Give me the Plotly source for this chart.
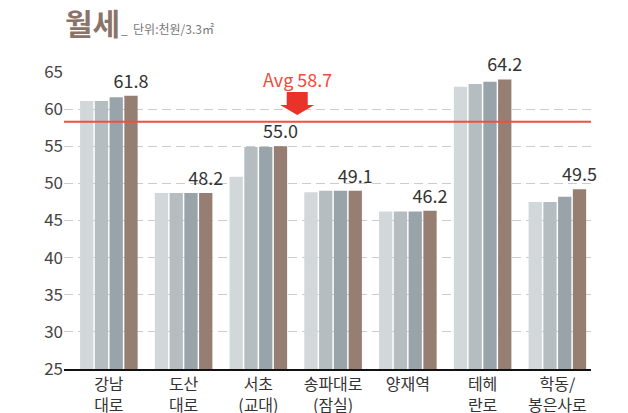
import plotly.graph_objects as go

# 월세 (단위: 천원/3.3㎡), 4 periods per area
areas = ["강남<br>대로", "도산<br>대로", "서초<br>(교대)", "송파대로<br>(잠실)", "양재역", "테헤<br>란로", "학동/<br>봉은사로"]
period1 = [61.1, 48.7, 50.9, 48.8, 46.2, 63.0, 47.5]
period2 = [61.1, 48.7, 54.9, 49.0, 46.2, 63.4, 47.5]
period3 = [61.6, 48.7, 54.9, 49.0, 46.2, 63.7, 48.2]
period4 = [61.8, 48.7, 55.0, 49.0, 46.3, 64.0, 49.2]
period4_labels = ["61.8", "48.2", "55.0", "49.1", "46.2", "64.2", "49.5"]
avg_value = 58.3
avg_label = "Avg 58.7"

colors = ["#d2d7da", "#b5bdc1", "#99a4aa", "#967e73"]
font = "Noto Sans CJK KR"

xs = list(range(len(areas)))
fig = go.Figure()
for i, vals in enumerate([period1, period2, period3, period4]):
    fig.add_trace(go.Bar(
        x=xs, y=vals, marker=dict(color=colors[i], line=dict(width=0)),
        text=period4_labels if i == 3 else None,
        textposition="outside" if i == 3 else "none",
        textfont=dict(size=18, color="#333333", family=font),
        cliponaxis=False, showlegend=False, hoverinfo="y",
    ))

# average line
fig.add_shape(type="line", xref="x domain", yref="y", x0=0, x1=1,
              y0=avg_value, y1=avg_value, line=dict(color="#f0503c", width=2))
# block arrow
fig.add_shape(type="path", xref="x", yref="y", xsizemode="pixel", ysizemode="pixel",
              xanchor=2.52, yanchor=59.2,
              path="M0,0 L-17,10 L-10.5,10 L-10.5,23 L10.5,23 L10.5,10 L17,10 Z",
              fillcolor="#e8322a", line=dict(width=0))
fig.add_annotation(x=2.52, y=64.1, xref="x", yref="y", text=avg_label, showarrow=False,
                   font=dict(size=18, color="#f04a3a", family=font), yanchor="middle")

# title
fig.add_annotation(x=-0.002, y=1.168, xref="paper", yref="paper", text="<b>월세</b>",
                   showarrow=False, xanchor="left", yanchor="middle",
                   font=dict(size=30, color="#8b7369", family=font))
fig.add_annotation(x=0.104, y=1.146, xref="paper", yref="paper", text="_  단위:천원/3.3㎡",
                   showarrow=False, xanchor="left", yanchor="middle",
                   font=dict(size=12, color="#777777", family=font))

# page has an 8px body margin, so margins are shifted to compensate
fig.update_layout(
    width=628, height=413,
    margin=dict(l=56, r=45, t=64, b=52),
    plot_bgcolor="white", paper_bgcolor="white",
    barmode="group", bargap=0.21, bargroupgap=0.1,
    uniformtext=dict(minsize=8, mode="show"),
    font=dict(family=font, color="#333333"),
    xaxis=dict(range=[-0.6, 6.45], tickmode="array", tickvals=xs, ticktext=areas,
               showline=True, linecolor="#111111", linewidth=2, showgrid=False,
               ticks="", automargin=False, tickfont=dict(size=16, color="#333333")),
    yaxis=dict(range=[25, 65], dtick=5, tick0=25, showgrid=True, gridcolor="#cccccc",
               griddash="9px,5px", gridwidth=1, zeroline=False, ticks="",
               automargin=False, tickfont=dict(size=17, color="#444444")),
)

fig.write_html("out.html")
